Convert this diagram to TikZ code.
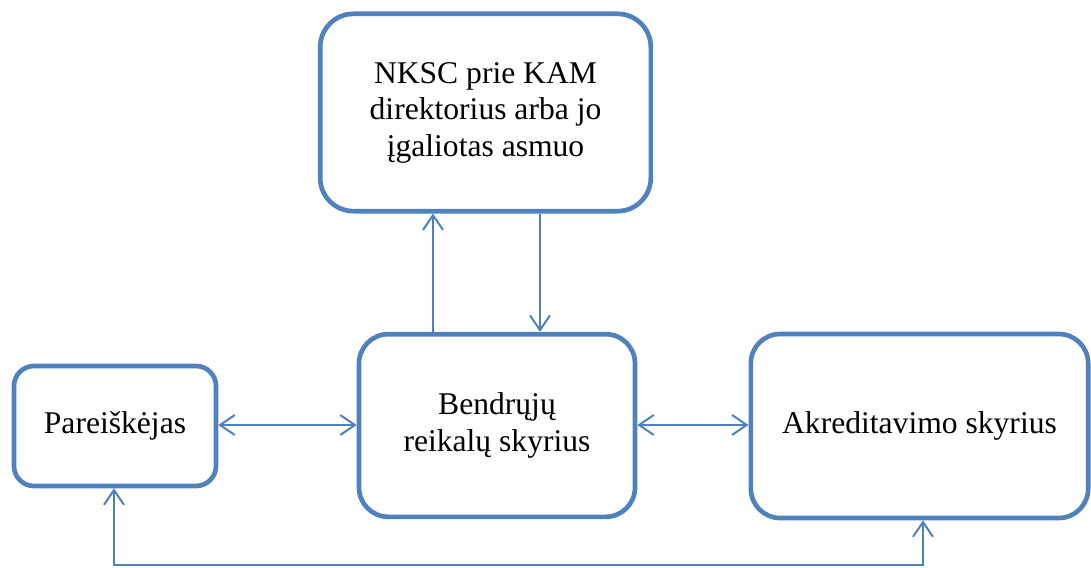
\documentclass[tikz,border=0pt]{standalone}
\usepackage{fontspec}
\setmainfont{Liberation Serif}
\usetikzlibrary{arrows.meta}
\definecolor{boxblue}{HTML}{4F81BD}
\begin{document}
\begin{tikzpicture}[x=0.75pt,y=-0.75pt,
	box/.style={draw=boxblue,line width=3.5pt,rectangle,align=center,
		font=\fontsize{23.7}{27.4}\selectfont,inner sep=0pt},
	link/.style={draw=boxblue,line width=1.5pt,
		arrows={-Straight Barb[length=11pt,width=15pt]}},
	biglink/.style={link,arrows={Straight Barb[length=11pt,width=15pt]-Straight Barb[length=11pt,width=15pt]}}]
		\useasboundingbox (0,0) rectangle (1091,567);
		\node[box,rounded corners=25pt,minimum width=248pt,minimum height=148pt] (dir) at (485.5,112.5) {NKSC prie KAM\\direktorius arba jo\\įgaliotas asmuo};
		\node[box,rounded corners=15pt,minimum width=151.5pt,minimum height=90pt] (par) at (115,426) {Pareiškėjas};
		\node[box,rounded corners=22pt,minimum width=207pt,minimum height=137pt] (bend) at (497,425.5) {Bendrųjų\\reikalų skyrius};
		\node[box,rounded corners=22pt,minimum width=253pt,minimum height=138pt] (akr) at (919.5,426) {Akreditavimo skyrius};
		\coordinate (low) at (114,565);

		\draw[link] (bend.north -| 433,0) -- (dir.south -| 433,0);
		\draw[link] (dir.south -| 540,0) -- (bend.north -| 540,0);
		\draw[biglink] (par.east |- 0,425) -- (bend.west |- 0,425);
		\draw[biglink] (bend.east |- 0,425) -- (akr.west |- 0,425);
		\draw[biglink] (par.south -| low) -- (low) -| (akr.south -| 923,0);
	\end{tikzpicture}
\end{document}
